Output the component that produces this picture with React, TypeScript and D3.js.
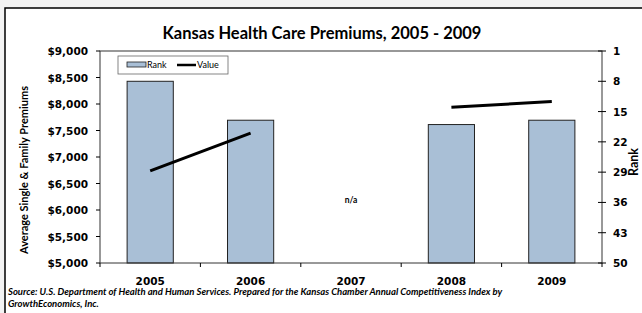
import React from "react";
import * as d3 from "d3";

// chart data
const years = ["2005", "2006", "2007", "2008", "2009"];
const rank = [8, 17, null, 18, 17];
const premiums = [6740, 7450, null, 7940, 8045];
const premiumTicks = [5000, 5500, 6000, 6500, 7000, 7500, 8000, 8500, 9000];
const rankTicks = [1, 8, 15, 22, 29, 36, 43, 50];

const W = 642;
const H = 313;
const font = "Lato, 'DejaVu Sans', sans-serif";
const numFont = "'DejaVu Sans', sans-serif";

export default function App() {
  const x0 = 100;
  const x1 = 602;
  const y0 = 51;
  const y1 = 263;

  const x = d3.scaleBand().domain(years).range([x0, x1]).paddingInner(0.54).paddingOuter(0.27);
  const xCenter = (yr: string) => (x(yr) as number) + x.bandwidth() / 2;
  const yLeft = d3.scaleLinear().domain([5000, 9000]).range([y1, y0]);
  const yRight = d3.scaleLinear().domain([50, 1]).range([y1, y0]);

  const step = (x1 - x0) / years.length;

  // premium line, broken where data is missing
  const lineGen = d3
    .line<[string, number | null]>()
    .defined((d) => d[1] != null)
    .x((d) => xCenter(d[0]))
    .y((d) => yLeft(d[1] as number));
  const linePath = lineGen(years.map((yr, i) => [yr, premiums[i]]));

  const fmt = (v: number) => "$" + d3.format(",")(v);

  return (
    <svg
      width={W}
      height={H}
      style={{ position: "absolute", left: 0, top: 0, background: "#f3f3f3" }}
      fontFamily={font}
    >
      <rect x={5} y={8} width={W + 20} height={H + 20} fill="#fff" stroke="#000" strokeWidth={1.5} />

      <text x={322} y={39} textAnchor="middle" fontSize={16.5} fontWeight="bold">
        Kansas Health Care Premiums, 2005 - 2009
      </text>

      {/* bars (rank, right axis) */}
      {years.map((yr, i) =>
        rank[i] == null ? null : (
          <rect
            key={yr}
            x={x(yr)}
            y={yRight(rank[i] as number)}
            width={x.bandwidth()}
            height={y1 - yRight(rank[i] as number)}
            fill="#a9bfd6"
            stroke="#222"
            strokeWidth={1}
          />
        )
      )}

      <path d={linePath || ""} fill="none" stroke="#000" strokeWidth={3} />

      <text x={xCenter("2007")} y={203} textAnchor="middle" fontSize={8.5} fontWeight="bold">
        n/a
      </text>

      {/* plot frame */}
      <rect x={x0} y={y0} width={x1 - x0} height={y1 - y0} fill="none" stroke="#333" strokeWidth={1} />

      {/* left axis */}
      {premiumTicks.map((t) => (
        <g key={t}>
          <line x1={x0 - 4} x2={x0} y1={yLeft(t)} y2={yLeft(t)} stroke="#000" />
          <text x={88} y={yLeft(t) + 4} textAnchor="end" fontSize={10.5} fontWeight="bold" fontFamily={numFont}>
            {fmt(t)}
          </text>
        </g>
      ))}
      <text
        transform={`translate(28,${(y0 + y1) / 2 + 13}) rotate(-90)`}
        textAnchor="middle"
        fontSize={11}
        fontWeight="bold"
      >
        Average Single &amp; Family Premiums
      </text>

      {/* right axis */}
      {rankTicks.map((t) => (
        <g key={t}>
          <line x1={x1 - 4} x2={x1 + 4} y1={yRight(t)} y2={yRight(t)} stroke="#000" />
          <text x={613} y={yRight(t) + 4} fontSize={10.5} fontWeight="bold" fontFamily={numFont}>
            {t}
          </text>
        </g>
      ))}
      <text transform={`translate(638,162) rotate(-90)`} textAnchor="middle" fontSize={12.5} fontWeight="bold">
        Rank
      </text>

      {/* bottom axis */}
      {d3.range(years.length + 1).map((i) => (
        <line key={i} x1={x0 + i * step} x2={x0 + i * step} y1={y1} y2={y1 + 4} stroke="#000" />
      ))}
      {years.map((yr) => (
        <text key={yr} x={xCenter(yr)} y={285} textAnchor="middle" fontSize={10.5} fontWeight="bold" fontFamily={numFont}>
          {yr}
        </text>
      ))}

      {/* legend */}
      <rect x={118} y={56} width={110} height={18} fill="#fff" stroke="#666" strokeWidth={0.8} />
      <rect x={127} y={62} width={19} height={5} fill="#a9bfd6" stroke="#222" strokeWidth={0.8} />
      <text x={147} y={68} fontSize={9}>Rank</text>
      <line x1={177} x2={196} y1={65} y2={65} stroke="#000" strokeWidth={2.5} />
      <text x={197} y={68} fontSize={9}>Value</text>

      {/* source */}
      <text x={8} y={295} fontSize={9.5} fontWeight="bold" fontStyle="italic">
        Source: U.S. Department of Health and Human Services. Prepared for the Kansas Chamber Annual Competitiveness Index by
      </text>
      <text x={8} y={307} fontSize={9.5} fontWeight="bold" fontStyle="italic">
        GrowthEconomics, Inc.
      </text>
    </svg>
  );
}
